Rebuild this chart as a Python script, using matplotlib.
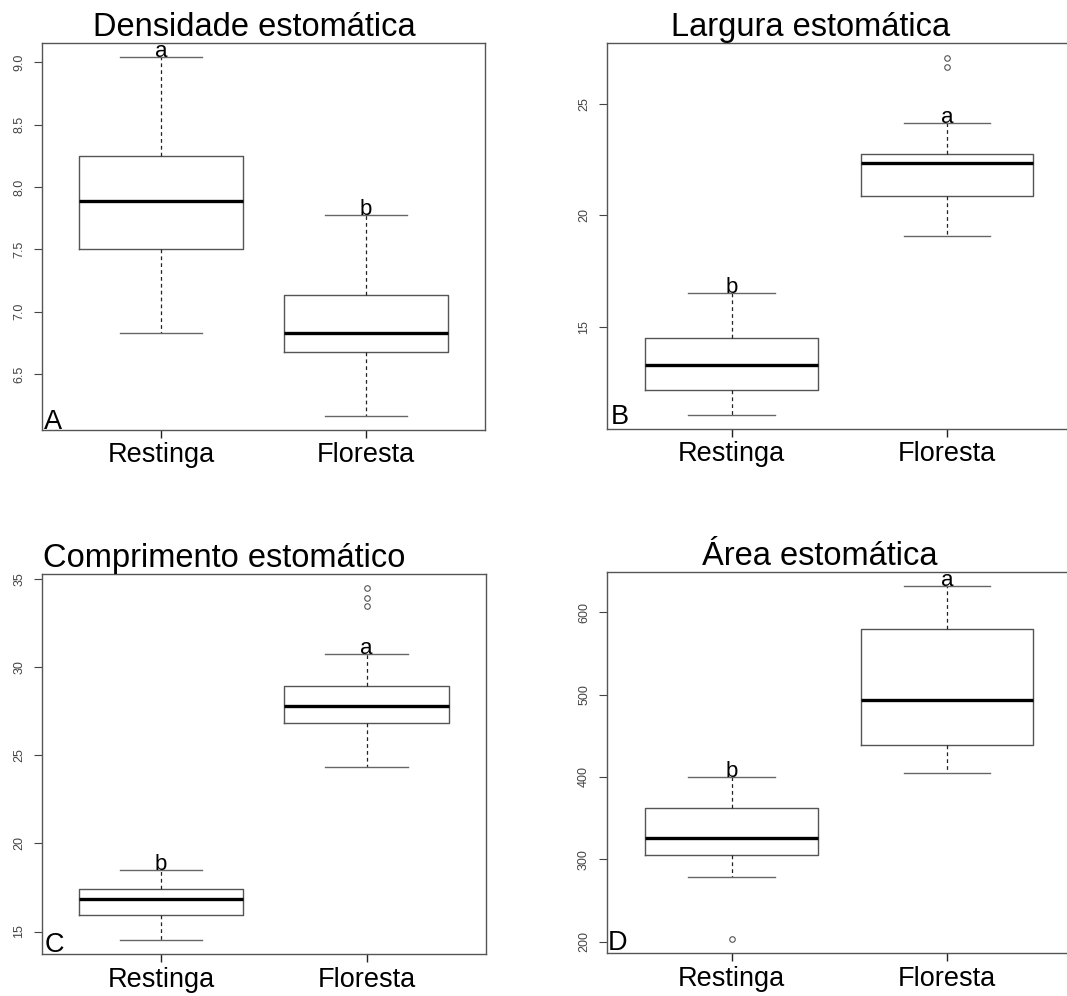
import matplotlib.pyplot as plt

plt.rcParams['font.family'] = ['Liberation Sans', 'DejaVu Sans']

groups = ['Restinga', 'Floresta']

# stats per panel: [whislo, q1, med, q3, whishi]
dens_rest = [6.83, 7.50, 7.885, 8.247, 9.04]
dens_flor = [6.165, 6.674, 6.827, 7.13, 7.776]
dens_out_rest = []
dens_out_flor = []

larg_rest = [11.08, 12.17, 13.29, 14.52, 16.52]
larg_flor = [19.09, 20.85, 22.33, 22.73, 24.15]
larg_out_rest = []
larg_out_flor = [26.64, 27.06]

comp_rest = [14.51, 15.93, 16.82, 17.43, 18.49]
comp_flor = [24.34, 26.84, 27.81, 28.95, 30.72]
comp_out_rest = []
comp_out_flor = [33.45, 33.94, 34.47]

area_rest = [278.9, 305.2, 325.5, 362.6, 400.0]
area_flor = [405.3, 438.4, 493.6, 580.2, 631.5]
area_out_rest = [203.0]
area_out_flor = []

titles = ['Densidade estomática', 'Largura estomática',
          'Comprimento estomático', 'Área estomática']
panel_tags = ['A', 'B', 'C', 'D']
letters = [['a', 'b'], ['b', 'a'], ['b', 'a'], ['b', 'a']]
yticks = [[6.5, 7.0, 7.5, 8.0, 8.5, 9.0], [15, 20, 25],
          [15, 20, 25, 30, 35], [200, 300, 400, 500, 600]]
yticklabels = [['6.5', '7.0', '7.5', '8.0', '8.5', '9.0'], ['15', '20', '25'],
               ['15', '20', '25', '30', '35'], ['200', '300', '400', '500', '600']]

data = [(dens_rest, dens_flor, dens_out_rest, dens_out_flor),
        (larg_rest, larg_flor, larg_out_rest, larg_out_flor),
        (comp_rest, comp_flor, comp_out_rest, comp_out_flor),
        (area_rest, area_flor, area_out_rest, area_out_flor)]

# axes rectangles in figure fraction
rects = [[0.0394, 0.5683, 0.4152, 0.3886],
         [0.5686, 0.5693, 0.4357, 0.3872],
         [0.0394, 0.0419, 0.4158, 0.3815],
         [0.5686, 0.0429, 0.4357, 0.3825]]
title_pos = [(0.479, 'center'), (0.439, 'center'), (0.002, 'left'), (0.459, 'center')]
tag_off = [(2, 1), (4, 5), (3, 2), (1, 3)]

fig = plt.figure(figsize=(10.67, 9.96), dpi=100)

for i in range(4):
    ax = fig.add_axes(rects[i])
    rest, flor, out_r, out_f = data[i]
    stats = []
    for s, o, name in [(rest, out_r, groups[0]), (flor, out_f, groups[1])]:
        stats.append({'whislo': s[0], 'q1': s[1], 'med': s[2], 'q3': s[3],
                      'whishi': s[4], 'fliers': o, 'label': name})
    ax.bxp(stats, positions=[1, 2], widths=0.8, capwidths=0.4,
           boxprops=dict(color='#555555', linewidth=1.0),
           medianprops=dict(color='black', linewidth=2.4),
           whiskerprops=dict(color='#222222', linewidth=0.9, linestyle=(0, (3, 2.5))),
           capprops=dict(color='#666666', linewidth=1.0),
           flierprops=dict(marker='o', markersize=4, markerfacecolor='none',
                           markeredgecolor='#555555', markeredgewidth=0.8))

    lo = min(rest[0], flor[0], *(out_r + out_f))
    hi = max(rest[4], flor[4], *(out_r + out_f))
    pad = (hi - lo) * 0.04
    ax.set_ylim(lo - pad, hi + pad)
    ax.set_xlim(0.42, 2.58)

    ax.set_yticks(yticks[i])
    ax.set_yticklabels(yticklabels[i], rotation=90, va='center', fontsize=9, color='#444444')
    ax.set_xticks([1, 2])
    ax.set_xticklabels(groups, fontsize=19.5)
    ax.tick_params(axis='y', length=6, width=0.8, color='#444444', pad=6)
    ax.tick_params(axis='x', length=6, width=1.0, color='#222222', pad=3)
    for sp in ax.spines.values():
        sp.set_color('#555555')
        sp.set_linewidth(1.0)

    for j, s in enumerate([rest, flor]):
        ax.text(j + 1, s[4], letters[i][j], ha='center', va='baseline', fontsize=16)

    x, ha = title_pos[i]
    ax.annotate(titles[i], xy=(x, 1), xycoords='axes fraction', xytext=(0, 5),
                textcoords='offset points', ha=ha, va='baseline', fontsize=23.5)
    ax.annotate(panel_tags[i], xy=(0, 0), xycoords='axes fraction',
                xytext=tag_off[i], textcoords='offset pixels',
                ha='left', va='baseline', fontsize=19.5)

fig.savefig('out.png', dpi=100)
